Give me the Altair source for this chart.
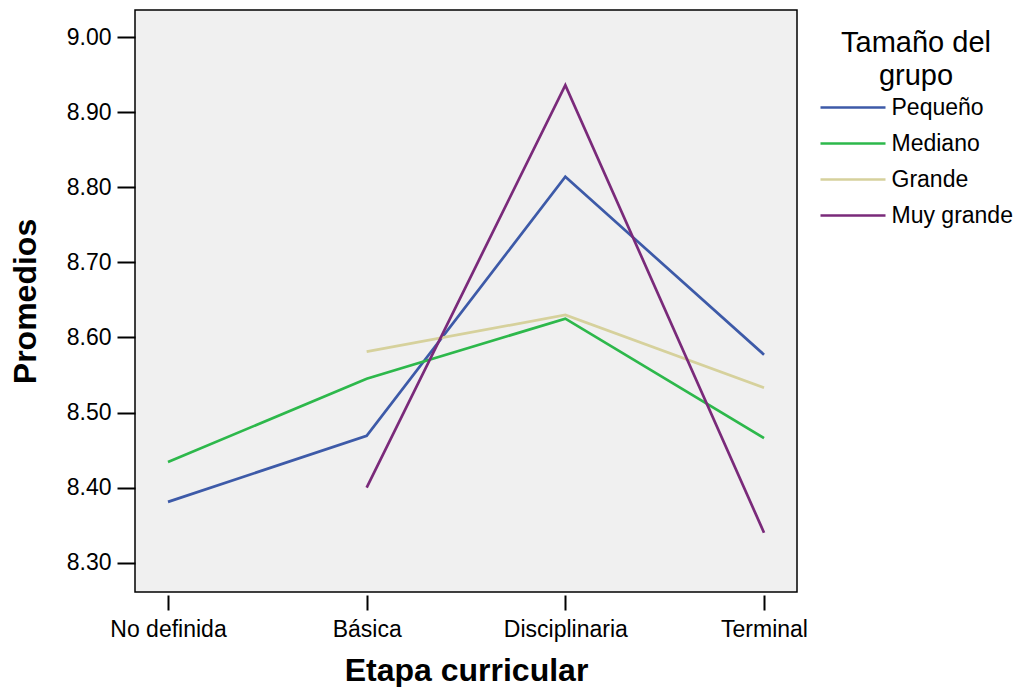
import altair as alt
import pandas as pd

etapas = ["No definida", "Básica", "Disciplinaria", "Terminal"]
grupos = ["Pequeño", "Mediano", "Grande", "Muy grande"]
colores = ["#3d5aa8", "#2db84b", "#d6d19c", "#7a2a7a"]

pequeno = [8.381, 8.469, 8.814, 8.577]
mediano = [8.434, 8.545, 8.625, 8.466]
grande = [None, 8.581, 8.630, 8.533]
muy_grande = [None, 8.400, 8.936, 8.340]

y_ticks = [8.30, 8.40, 8.50, 8.60, 8.70, 8.80, 8.90, 9.00]

rows = []
for g, vals in zip(grupos, [pequeno, mediano, grande, muy_grande]):
    for e, v in zip(etapas, vals):
        if v is not None:
            rows.append({"Etapa": e, "Grupo": g, "Promedio": v})
df = pd.DataFrame(rows)

FONT = "Liberation Sans"

chart = alt.Chart(df).mark_line(strokeWidth=2.7).encode(
    x=alt.X(
        "Etapa:N",
        sort=etapas,
        scale=alt.Scale(type="point", padding=0.166),
        axis=alt.Axis(
            title="Etapa curricular",
            labelAngle=0,
            domain=False,
            grid=False,
            offset=3,
            tickSize=15,
            tickWidth=2,
            tickColor="black",
            labelFont=FONT,
            labelFontSize=23,
            labelColor="black",
            labelPadding=8,
            titleFont=FONT,
            titleFontSize=32,
            titleFontWeight="bold",
            titleColor="black",
            titlePadding=14,
        ),
    ),
    y=alt.Y(
        "Promedio:Q",
        scale=alt.Scale(domain=[8.261, 9.036], nice=False, zero=False),
        axis=alt.Axis(
            title="Promedios",
            values=y_ticks,
            format=".2f",
            domain=False,
            grid=False,
            tickSize=18,
            tickWidth=2,
            tickColor="black",
            labelFont=FONT,
            labelFontSize=23,
            labelColor="black",
            labelPadding=6,
            titleFont=FONT,
            titleFontSize=32,
            titleFontWeight="bold",
            titleColor="black",
            titleX=-110,
            titleBaseline="middle",
        ),
    ),
    color=alt.Color(
        "Grupo:N",
        sort=grupos,
        scale=alt.Scale(domain=grupos, range=colores),
        legend=alt.Legend(
            title=["Tamaño del", "grupo"],
            orient="none",
            legendX=685,
            legendY=19,
            titleFont=FONT,
            titleFontSize=29,
            titleFontWeight="normal",
            titleColor="black",
            titleAlign="center",
            titleAnchor="middle",
            titleLineHeight=33,
            titlePadding=5,
            labelFont=FONT,
            labelFontSize=23,
            labelColor="black",
            labelOffset=27,
            symbolType="M-8.125,0H8.125",
            symbolSize=64,
            symbolOffset=21.5,
            symbolStrokeWidth=2.7,
            rowPadding=12,
        ),
    ),
).properties(
    width=662,
    height=582,
    padding={"left": 127, "top": 2, "right": 218, "bottom": 95},
    autosize=alt.AutoSizeParams(type="none"),
).configure_view(
    fill="#f0f0f0",
    stroke="black",
    strokeWidth=1.5,
)

chart.save("out.html", embed_options={"renderer": "svg", "actions": False})
